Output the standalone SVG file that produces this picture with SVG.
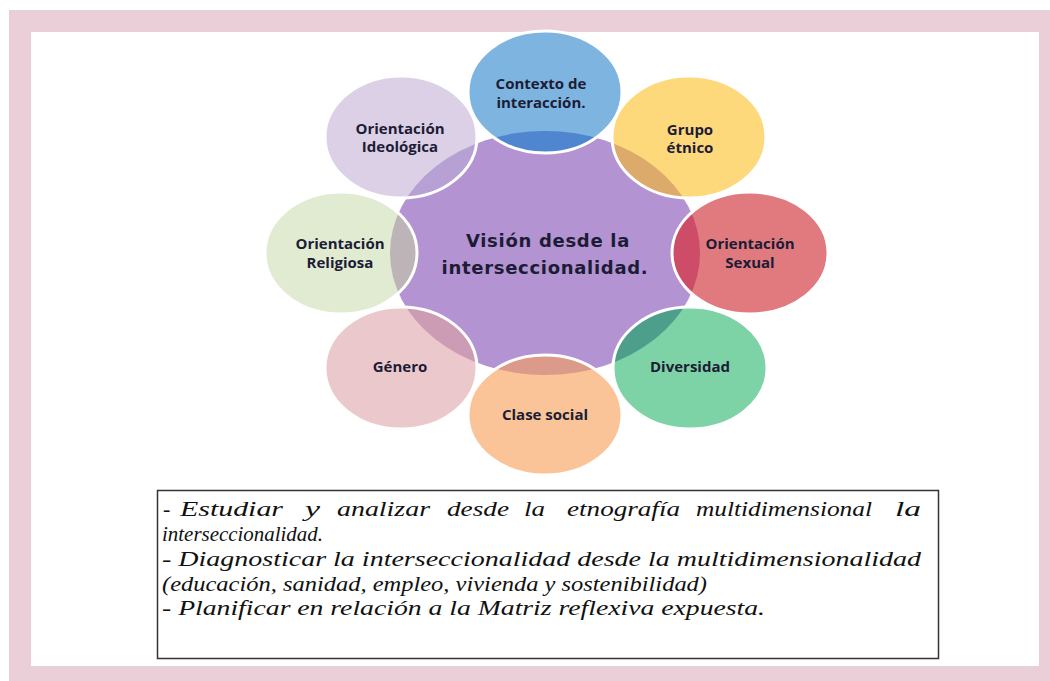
<svg xmlns="http://www.w3.org/2000/svg" width="1050" height="681" viewBox="0 0 1050 681">
<style>
.lbl{font-family:"Open Sans","Liberation Sans",sans-serif;font-weight:700;font-size:15px;fill:#1c1c36;text-anchor:middle}
.ctr{font-family:"DejaVu Sans","Liberation Sans",sans-serif;font-weight:700;font-size:18px;letter-spacing:0.7px;fill:#1c1c36;text-anchor:middle}
.ring{fill:none;stroke:#ffffff;stroke-width:3}
.body{font-family:"Liberation Serif","Times New Roman",serif;font-style:italic;font-size:22px;fill:#111111}
</style>
<defs>
<clipPath id="core"><ellipse cx="545" cy="253" rx="155" ry="122"/></clipPath>
</defs>
<rect x="0" y="0" width="1050" height="681" fill="#ffffff"/>
<rect x="9" y="10" width="1041" height="671" fill="#eacfd9"/>
<rect x="31" y="32" width="1008" height="634" fill="#ffffff"/>

<g id="centro">
<ellipse cx="545" cy="253" rx="155" ry="122" fill="#b393d1"/>
</g>

<g id="contexto">
<ellipse cx="545" cy="92" rx="77" ry="61" fill="#7db4e0"/>
<ellipse cx="545" cy="92" rx="77" ry="61" fill="#4f86cf" clip-path="url(#core)"/>
<ellipse class="ring" cx="545" cy="92" rx="77" ry="61"/>
<text class="lbl" x="541" y="89">Contexto de</text>
<text class="lbl" x="541" y="108">interacción.</text>
</g>

<g id="grupo">
<ellipse cx="689" cy="137" rx="77" ry="61" fill="#fdd97c"/>
<ellipse cx="689" cy="137" rx="77" ry="61" fill="#dcaa6a" clip-path="url(#core)"/>
<ellipse class="ring" cx="689" cy="137" rx="77" ry="61"/>
<text class="lbl" x="690" y="135">Grupo</text>
<text class="lbl" x="690" y="153">étnico</text>
</g>

<g id="sexual">
<ellipse cx="750" cy="253" rx="78" ry="61" fill="#e07a7e"/>
<ellipse cx="750" cy="253" rx="78" ry="61" fill="#cd4c68" clip-path="url(#core)"/>
<ellipse class="ring" cx="750" cy="253" rx="78" ry="61"/>
<text class="lbl" x="750" y="249">Orientación</text>
<text class="lbl" x="750" y="268">Sexual</text>
</g>

<g id="diversidad">
<ellipse cx="690" cy="368" rx="77" ry="61" fill="#7ed3a6"/>
<ellipse cx="690" cy="368" rx="77" ry="61" fill="#4e9e8c" clip-path="url(#core)"/>
<ellipse class="ring" cx="690" cy="368" rx="77" ry="61"/>
<text class="lbl" x="690" y="372">Diversidad</text>
</g>

<g id="clase">
<ellipse cx="545" cy="415" rx="77" ry="60" fill="#fbc498"/>
<ellipse cx="545" cy="415" rx="77" ry="60" fill="#dc9a8a" clip-path="url(#core)"/>
<ellipse class="ring" cx="545" cy="415" rx="77" ry="60"/>
<text class="lbl" x="545" y="420">Clase social</text>
</g>

<g id="genero">
<ellipse cx="401" cy="368" rx="76" ry="61" fill="#ebc8cb"/>
<ellipse cx="401" cy="368" rx="76" ry="61" fill="#cc9cb5" clip-path="url(#core)"/>
<ellipse class="ring" cx="401" cy="368" rx="76" ry="61"/>
<text class="lbl" x="400" y="372">Género</text>
</g>

<g id="religiosa">
<ellipse cx="341" cy="253" rx="76" ry="61" fill="#e1ebd2"/>
<ellipse cx="341" cy="253" rx="76" ry="61" fill="#bcb4b6" clip-path="url(#core)"/>
<ellipse class="ring" cx="341" cy="253" rx="76" ry="61"/>
<text class="lbl" x="340" y="249">Orientación</text>
<text class="lbl" x="340" y="268">Religiosa</text>
</g>

<g id="ideologica">
<ellipse cx="401" cy="137" rx="76" ry="61" fill="#dcd0e6"/>
<ellipse cx="401" cy="137" rx="76" ry="61" fill="#b7a0d3" clip-path="url(#core)"/>
<ellipse class="ring" cx="401" cy="137" rx="76" ry="61"/>
<text class="lbl" x="400" y="134">Orientación</text>
<text class="lbl" x="400" y="152">Ideológica</text>
</g>

<g id="centro-texto">
<text class="ctr" x="548" y="247">Visión desde la</text>
<text class="ctr" x="545" y="274">interseccionalidad.</text>
</g>

<g id="objetivos">
<rect x="157.5" y="490.5" width="781" height="168" fill="#ffffff" stroke="#333333" stroke-width="1.5"/>
<text class="body" y="516"><tspan x="163">-</tspan><tspan x="180" textLength="103" lengthAdjust="spacingAndGlyphs">Estudiar</tspan><tspan x="305" textLength="15" lengthAdjust="spacingAndGlyphs">y</tspan><tspan x="337" textLength="93" lengthAdjust="spacingAndGlyphs">analizar</tspan><tspan x="447" textLength="62" lengthAdjust="spacingAndGlyphs">desde</tspan><tspan x="524" textLength="21" lengthAdjust="spacingAndGlyphs">la</tspan><tspan x="567" textLength="113" lengthAdjust="spacingAndGlyphs">etnografía</tspan><tspan x="696" textLength="176" lengthAdjust="spacingAndGlyphs">multidimensional</tspan><tspan x="895" textLength="26" lengthAdjust="spacingAndGlyphs">la</tspan></text>
<text class="body" x="162" y="541" textLength="161" lengthAdjust="spacingAndGlyphs">interseccionalidad.</text>
<text class="body" x="162" y="566" textLength="759" lengthAdjust="spacingAndGlyphs">- Diagnosticar la interseccionalidad  desde la multidimensionalidad</text>
<text class="body" x="162" y="591" textLength="545" lengthAdjust="spacingAndGlyphs">(educación, sanidad, empleo, vivienda y sostenibilidad)</text>
<text class="body" x="162" y="615" textLength="603" lengthAdjust="spacingAndGlyphs">- Planificar en relación a la Matriz reflexiva expuesta.</text>
</g>
<g id="conectores"/>
</svg>
